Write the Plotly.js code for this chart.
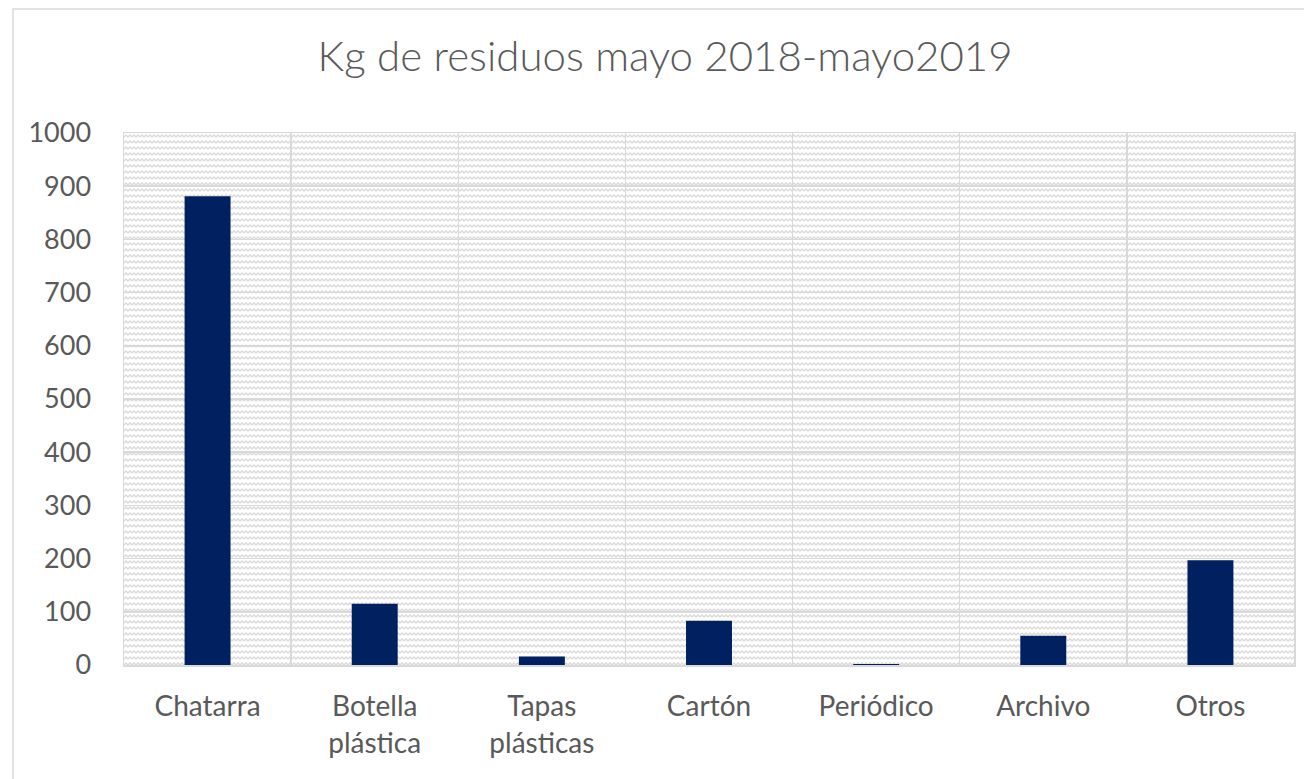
<!DOCTYPE html>
<html>
<head>
<meta charset="utf-8">
<script src="https://cdn.plot.ly/plotly-3.0.1.min.js"></script>
<style>
html,body{margin:0;padding:0;background:#fff;}
#chart{width:1304px;height:779px;}
</style>
</head>
<body>
<div id="chart"></div>
<script>
const categories = ["Chatarra", "Botella<br>plástica", "Tapas<br>plásticas", "Cartón", "Periódico", "Archivo", "Otros"];
const kgValues = [881, 115, 16, 83, 2, 55, 197];
const yTicks = [0, 100, 200, 300, 400, 500, 600, 700, 800, 900, 1000];

const svg = '<svg xmlns="http://www.w3.org/2000/svg" width="1170" height="532">' +
  '<defs><pattern id="p" width="8" height="6" patternUnits="userSpaceOnUse">' +
  '<rect width="8" height="6" fill="#ffffff"/>' +
  '<path d="M0 4 L2 2 L4 4 L6 2 L8 4" stroke="#dadada" stroke-width="1.3" fill="none"/>' +
  '</pattern></defs><rect width="1170" height="532" fill="url(#p)"/></svg>';
const bgUri = 'data:image/svg+xml;base64,' + btoa(svg);

const trace = {
  type: 'bar',
  x: categories,
  y: kgValues,
  marker: {color: '#002060'},
  hoverinfo: 'x+y'
};

const fontFam = 'Lato, "Open Sans", "Liberation Sans", sans-serif';

const layout = {
  width: 1304,
  height: 779,
  margin: {l: 124, r: 10, t: 133, b: 114},
  paper_bgcolor: '#ffffff',
  plot_bgcolor: 'rgba(0,0,0,0)',
  bargap: 0.725,
  showlegend: false,
  title: {
    text: 'Kg de residuos mayo 2018-mayo2019',
    font: {family: fontFam, size: 42, color: '#595959', weight: 300},
    x: 0.51, xanchor: 'center', xref: 'container',
    y: 0.928, yanchor: 'middle', yref: 'container'
  },
  xaxis: {
    type: 'category',
    tickson: 'boundaries',
    range: [-0.5, 6.5],
    showgrid: true,
    gridcolor: '#d9d9d9',
    gridwidth: 1.5,
    showline: true,
    linecolor: '#d9d9d9',
    linewidth: 1.5,
    mirror: true,
    ticks: '',
    ticklabelstandoff: 16,
    tickfont: {family: fontFam, size: 28, color: '#595959'},
    fixedrange: true
  },
  yaxis: {
    range: [0, 1000],
    tickvals: yTicks,
    showgrid: true,
    gridcolor: '#d9d9d9',
    gridwidth: 1.5,
    zeroline: false,
    showline: true,
    linecolor: '#d9d9d9',
    linewidth: 1.5,
    mirror: true,
    ticks: '',
    ticklabelstandoff: 26,
    tickfont: {family: fontFam, size: 27, color: '#595959'},
    fixedrange: true
  },
  images: [{
    source: bgUri,
    xref: 'paper', yref: 'paper',
    x: 0, y: 1, sizex: 1, sizey: 1,
    xanchor: 'left', yanchor: 'top',
    sizing: 'stretch', layer: 'below'
  }],
  shapes: [{
    type: 'rect', xref: 'paper', yref: 'paper',
    x0: -0.0949, x1: 1.2, y0: -0.5, y1: 1.233,
    line: {color: '#d9d9d9', width: 1.5},
    fillcolor: 'rgba(0,0,0,0)', layer: 'below'
  }]
};

Plotly.newPlot('chart', [trace], layout, {displayModeBar: false, staticPlot: true});
</script>
</body>
</html>
